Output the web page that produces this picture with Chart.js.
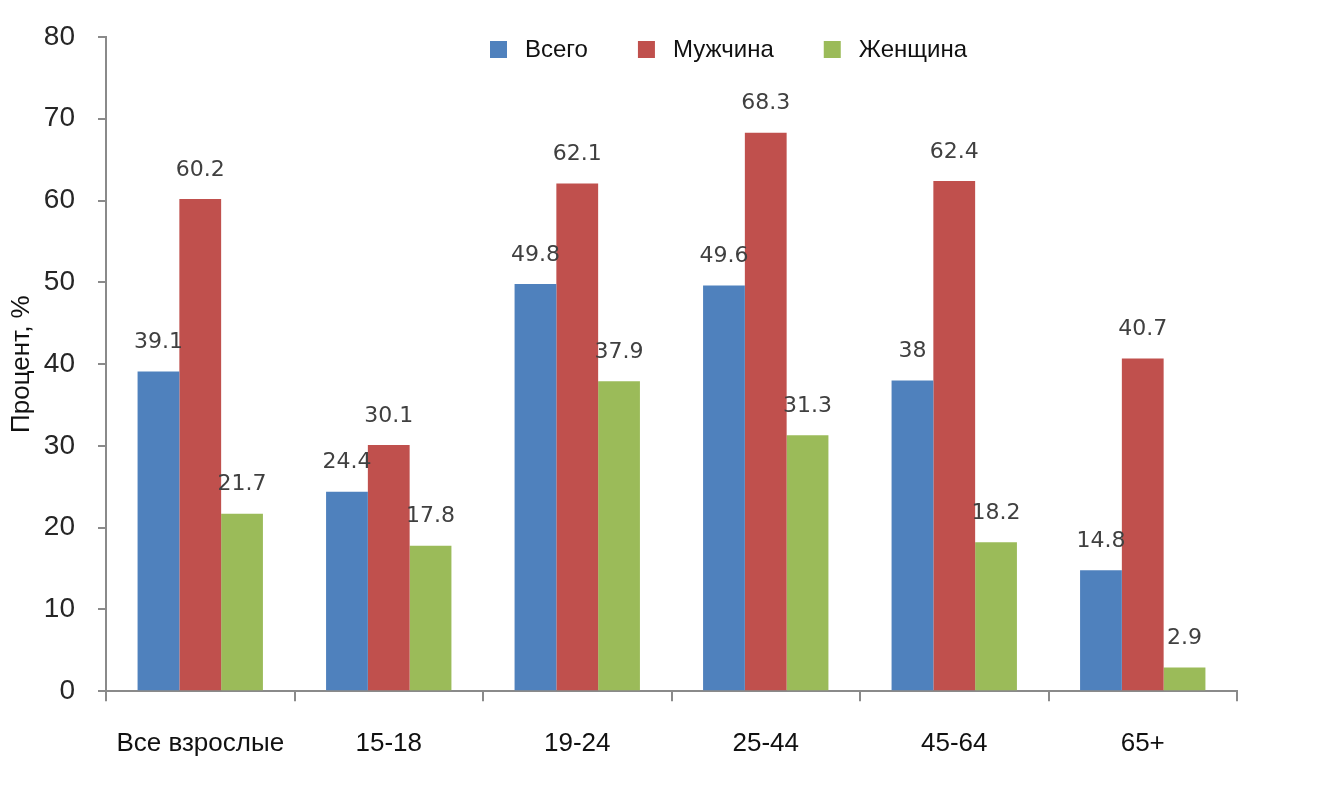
<!DOCTYPE html>
<html>
<head>
<meta charset="utf-8">
<script src="https://cdn.jsdelivr.net/npm/chart.js@4"></script>
<style>
  html, body { margin: 0; padding: 0; background: #fff; }
  #wrap { width: 1320px; height: 793px; }
</style>
</head>
<body>
<div id="wrap"><canvas id="chart"></canvas></div>
<script>
// Age groups and shares (%)
const GROUPS = ['Все взрослые', '15-18', '19-24', '25-44', '45-64', '65+'];
const TOTAL = [39.1, 24.4, 49.8, 49.6, 38, 14.8];
const MEN = [60.2, 30.1, 62.1, 68.3, 62.4, 40.7];
const WOMEN = [21.7, 17.8, 37.9, 31.3, 18.2, 2.9];
const SERIES = ['Всего', 'Мужчина', 'Женщина'];
const Y_TITLE = 'Процент, %';

const COL = ['#4F81BD', '#C0504D', '#9BBB59'];
const AXIS = '#8a8a8a';

// value labels above bars
const valueLabels = {
  id: 'valueLabels',
  afterDatasetsDraw(chart) {
    const ctx = chart.ctx;
    ctx.save();
    ctx.font = '22px "DejaVu Sans"';
    ctx.fillStyle = '#404040';
    ctx.textAlign = 'center';
    ctx.textBaseline = 'bottom';
    chart.data.datasets.forEach((ds, i) => {
      chart.getDatasetMeta(i).data.forEach((bar, j) => {
        ctx.fillText(String(ds.data[j]), bar.x, bar.y - 18);
      });
    });
    ctx.restore();
  }
};

// legend drawn inside the plot, near the top
const topLegend = {
  id: 'topLegend',
  afterDraw(chart) {
    const ctx = chart.ctx;
    ctx.save();
    ctx.font = '24px "Liberation Sans"';
    ctx.textBaseline = 'middle';
    let x = 490;
    const y = 50;
    chart.data.datasets.forEach(ds => {
      ctx.fillStyle = ds.backgroundColor;
      ctx.fillRect(x, y - 9, 17, 17);
      x += 17 + 18;
      ctx.fillStyle = '#111';
      ctx.fillText(ds.label, x, y);
      x += ctx.measureText(ds.label).width + 50;
    });
    ctx.restore();
  }
};

new Chart(document.getElementById('chart'), {
  type: 'bar',
  data: {
    labels: GROUPS,
    datasets: [
      { label: SERIES[0], data: TOTAL, backgroundColor: COL[0] },
      { label: SERIES[1], data: MEN, backgroundColor: COL[1] },
      { label: SERIES[2], data: WOMEN, backgroundColor: COL[2] }
    ]
  },
  options: {
    responsive: true, maintainAspectRatio: false, animation: false,
    layout: { padding: { left: 6, right: 83, top: 21, bottom: 7 } },
    datasets: { bar: { categoryPercentage: 0.665, barPercentage: 1 } },
    plugins: { legend: { display: false }, tooltip: { enabled: false } },
    scales: {
      x: {
        grid: { drawOnChartArea: false, drawTicks: true, tickLength: 10, color: AXIS, lineWidth: 2 },
        border: { color: AXIS, width: 2 },
        ticks: { color: '#111', padding: 6, font: { family: 'Liberation Sans', size: 26, lineHeight: 2.8 } }
      },
      y: {
        min: 0, max: 80,
        afterFit(scale) { scale.width = 100; },
        grid: { drawOnChartArea: false, drawTicks: true, tickLength: 8, color: AXIS, lineWidth: 2 },
        border: { color: AXIS, width: 2 },
        ticks: { stepSize: 10, color: '#262626', padding: 23, font: { family: 'Liberation Sans', size: 28, lineHeight: 1 } },
        title: { display: true, text: Y_TITLE, color: '#111', padding: { top: 0, bottom: 4 },
                 font: { family: 'Liberation Sans', size: 26 } }
      }
    }
  },
  plugins: [valueLabels, topLegend]
});
</script>
</body>
</html>
